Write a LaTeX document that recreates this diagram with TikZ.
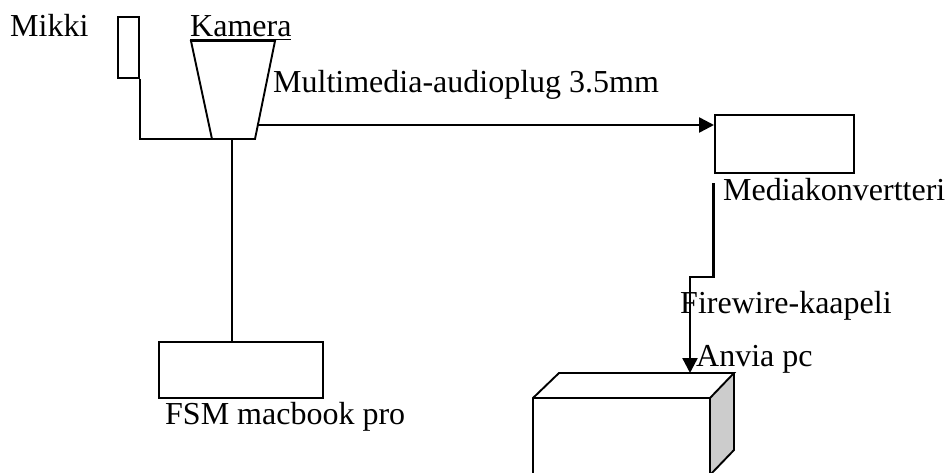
\documentclass[tikz,border=0pt]{standalone}
\usepackage{fontspec}
\setmainfont{Liberation Serif}
\usetikzlibrary{arrows.meta,calc}
\begin{document}
\begin{tikzpicture}[x=1pt,y=-1pt,
  box/.style={draw,line width=1.9pt,inner sep=0pt,anchor=north west},
  lbl/.style={inner sep=0pt,anchor=base west,font=\fontsize{32}{38}\selectfont},
  wire/.style={line width=1.9pt},
  cable/.style={line width=2.4pt,-{Triangle[length=15pt,width=15pt]}}]
\useasboundingbox (0,0) rectangle (949,473);
\clip (0,0) rectangle (949,473);
% labels
\node[lbl] (tmikki) at (10,37) {Mikki};
\node[lbl] (tkam) at (190,37) {\underline{Kamera}};
\node[lbl] (tmulti) at (273,93) {Multimedia-audioplug 3.5mm};
\node[lbl] (tconv) at (723,200) {Mediakonvertteri};
\node[lbl] (tfire) at (680,313) {Firewire-kaapeli};
\node[lbl] (tanvia) at (696,366) {Anvia pc};
\node[lbl] (tmac) at (165,424) {FSM macbook pro};
% microphone
\node[box,minimum width=21pt,minimum height=61pt] (mic) at (117,16) {};
% camera (trapezoid)
\coordinate (camTL) at (191,41);
\coordinate (camTR) at (275,41);
\coordinate (camBR) at (255,139);
\coordinate (camBL) at (212,139);
\draw[wire,line join=miter] (camTL) -- (camTR) -- (camBR) -- (camBL) -- cycle;
\coordinate (camR) at (257.5,125);
\coordinate (camB) at (232,139);
% boxes
\node[box,minimum width=164pt,minimum height=56pt] (mac) at (158,341) {};
\node[box,minimum width=139pt,minimum height=58pt] (conv) at (714,114) {};
% Anvia pc (3D box)
\coordinate (aFTL) at (533,398);
\coordinate (aFTR) at (710,398);
\coordinate (aBTL) at (559,373);
\coordinate (aBTR) at (734,373);
\coordinate (aBBR) at (734,450);
\coordinate (aFBR) at (710,475);
\coordinate (aFBL) at (533,475);
\fill[gray!40] (aFTR) -- (aBTR) -- (aBBR) -- (aFBR) -- cycle;
\draw[wire,line join=miter] (aFBL) -- (aFTL) -- (aBTL) -- (aBTR) -- (aFTR) -- (aFTL);
\draw[wire,line join=miter] (aFTR) -- (aFBR) -- (aBBR) -- (aBTR);
\coordinate (aTop) at (690,373);
% connectors
\draw[wire] (mic.south east) |- (camBL);
\draw[wire] (camB) -- (camB |- mac.north);
\draw[cable] (camR) -- (camR -| conv.west);
\coordinate (convOut) at (713.5,183);
\draw[line width=2.4pt] (convOut) -- (713.5,277) -- (690,277) -- (690,300);
\draw[cable] (690,299) -- (aTop);
\end{tikzpicture}
\end{document}
